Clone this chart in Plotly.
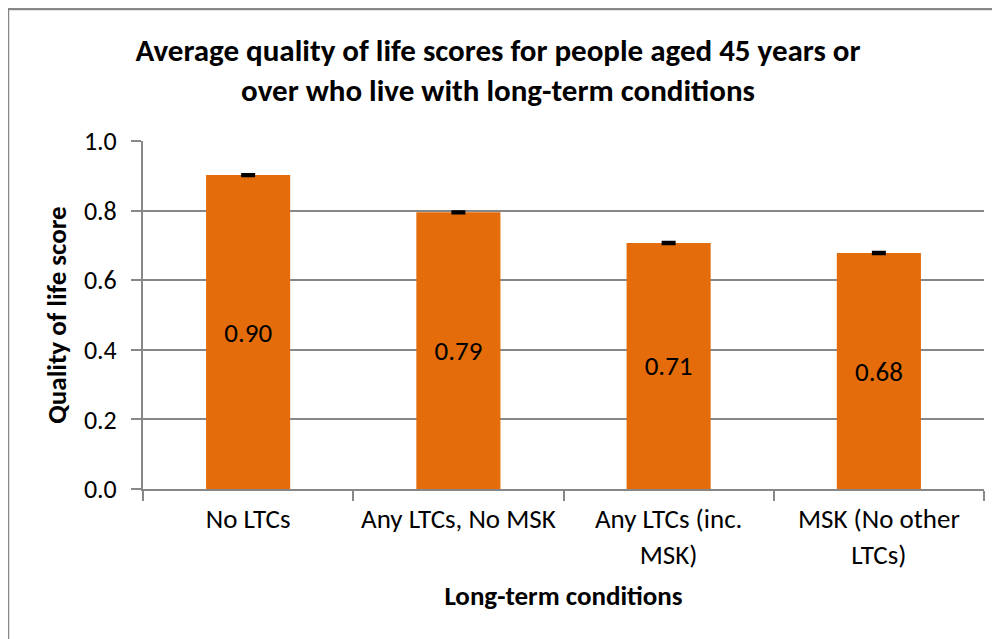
import plotly.graph_objects as go

categories = ["No LTCs", "Any LTCs, No MSK", "Any LTCs (inc.<br>MSK)", "MSK (No other<br>LTCs)"]
scores = [0.902, 0.795, 0.707, 0.678]
labels = ["0.90", "0.79", "0.71", "0.68"]
errors = [0.002, 0.002, 0.002, 0.002]
y_ticks = [0.0, 0.2, 0.4, 0.6, 0.8, 1.0]
y_tick_labels = ["0.0", "0.2", "0.4", "0.6", "0.8", "1.0"]

FONT = "Calibri, Carlito, Lato, sans-serif"
GRAY = "#878787"

fig = go.Figure(go.Bar(
    x=categories, y=scores, width=0.4,
    marker=dict(color="#E46C0A", line=dict(width=0)),
    text=labels, textposition="inside", insidetextanchor="middle",
    textfont=dict(family=FONT, size=27, color="black"),
    error_y=dict(type="data", array=errors, visible=True, color="black", thickness=3, width=7),
    cliponaxis=False,
))

# page body has an 8px offset; coordinates below are in figure pixels
OFF = 7
W, H = 1000, 639
L, T = 142 - OFF, 140 - OFF
R = W - (983 - OFF)
B = H - (488 - OFF)
pw, ph = W - L - R, H - T - B

def px_x(p):
    return (p - OFF - L) / pw

def px_y(p):
    return (H - B - (p - OFF)) / ph

fig.update_layout(
    width=W, height=H,
    margin=dict(l=L, r=R, t=T, b=B),
    paper_bgcolor="white", plot_bgcolor="white",
    font=dict(family=FONT, size=27, color="black"),
    title=dict(
        text="<b>Average quality of life scores for people aged 45 years or<br>over who live with long-term conditions</b>",
        x=(497 - OFF) / W, xanchor="center", y=1 - (60 - OFF) / H, yanchor="middle",
        font=dict(family=FONT, size=31, color="black"),
    ),
    showlegend=False,
    xaxis=dict(
        showline=True, linecolor=GRAY, linewidth=2,
        ticks="outside", tickson="boundaries", ticklen=10, tickcolor=GRAY, tickwidth=2,
        ticklabelstandoff=5,
        tickfont=dict(family=FONT, size=27, color="black"),
        title=dict(text="<b>Long-term conditions</b>", font=dict(family=FONT, size=27, color="black"), standoff=17),
        showgrid=False,
    ),
    yaxis=dict(
        range=[0, 1.0], tickvals=y_ticks, ticktext=y_tick_labels,
        showline=True, linecolor=GRAY, linewidth=2,
        ticks="outside", ticklen=10, tickcolor=GRAY, tickwidth=2,
        ticklabelstandoff=9,
        showgrid=True, gridcolor=GRAY, gridwidth=1.5,
        tickfont=dict(family=FONT, size=26, color="black"),
        title=dict(text="<b>Quality of life score</b>", font=dict(family=FONT, size=27, color="black"), standoff=9),
        zeroline=False,
    ),
    shapes=[
        dict(type="line", xref="paper", yref="paper", x0=px_x(7), x1=px_x(1010), y0=px_y(8), y1=px_y(8),
             line=dict(color=GRAY, width=2.5)),
        dict(type="line", xref="paper", yref="paper", x0=px_x(7), x1=px_x(7), y0=px_y(8), y1=px_y(650),
             line=dict(color=GRAY, width=2.5)),
    ],
)

fig.write_html("out.html")
